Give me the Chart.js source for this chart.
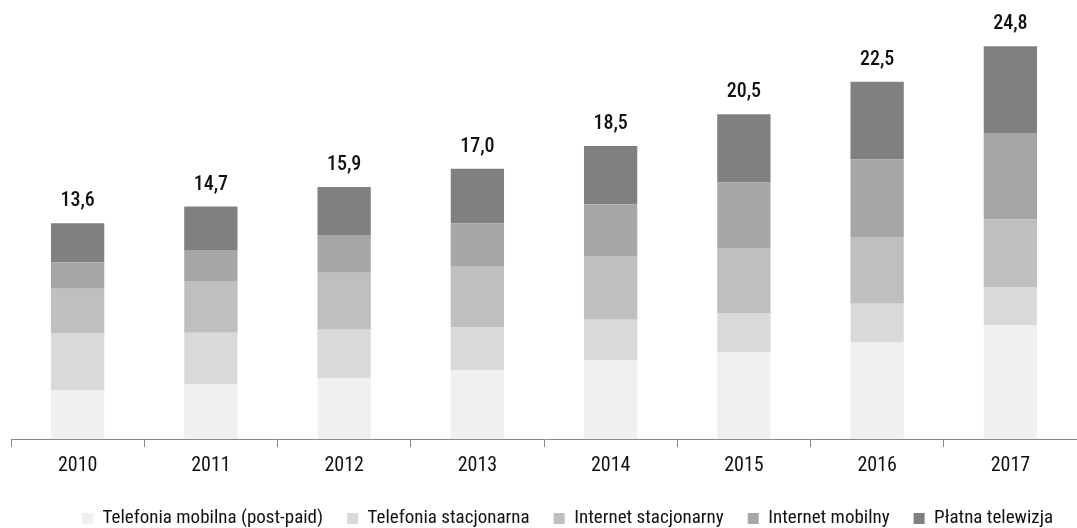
<!DOCTYPE html>
<html>
<head>
<meta charset="utf-8">
<script src="https://cdn.jsdelivr.net/npm/chart.js@4/dist/chart.umd.min.js"></script>
<style>
  html, body { margin: 0; padding: 0; background: #fff; }
  #wrap { width: 1077px; height: 528px; }
</style>
</head>
<body>
<div id="wrap"><canvas id="chart" width="1077" height="528"></canvas></div>
<script>
const years = ['2010', '2011', '2012', '2013', '2014', '2015', '2016', '2017'];
const totals = [13.6, 14.7, 15.9, 17.0, 18.5, 20.5, 22.5, 24.8];

// segments (bottom to top)
const mobilePostpaid = [3.06, 3.45, 3.85, 4.33, 4.96, 5.48, 6.09, 7.2];
const fixedPhone = [3.6, 3.25, 3.04, 2.7, 2.57, 2.47, 2.45, 2.4];
const fixedInternet = [2.82, 3.22, 3.6, 3.89, 4.02, 4.1, 4.21, 4.27];
const mobileInternet = [1.68, 2.01, 2.39, 2.7, 3.26, 4.14, 4.9, 5.4];
const payTv = [2.45, 2.74, 3.03, 3.43, 3.68, 4.31, 4.9, 5.52];

const seriesNames = ['Telefonia mobilna (post-paid)', 'Telefonia stacjonarna', 'Internet stacjonarny', 'Internet mobilny', 'Płatna telewizja'];
const seriesColors = ['#f0f0f0', '#d9d9d9', '#bfbfbf', '#a6a6a6', '#808080'];
const seriesData = [mobilePostpaid, fixedPhone, fixedInternet, mobileInternet, payTv];

const FONT = '"Roboto Condensed", "Liberation Sans Narrow", sans-serif';

// total above each stack
const totalLabels = {
  id: 'totalLabels',
  afterDatasetsDraw(chart) {
    const ctx = chart.ctx;
    const last = chart.getDatasetMeta(chart.data.datasets.length - 1);
    ctx.save();
    ctx.font = '500 20px ' + FONT;
    ctx.fillStyle = '#111';
    ctx.textAlign = 'center';
    ctx.textBaseline = 'alphabetic';
    last.data.forEach((bar, i) => {
      ctx.fillText(totals[i].toFixed(1).replace('.', ','), bar.x, bar.y - 17);
    });
    ctx.restore();
  }
};

new Chart(document.getElementById('chart'), {
  type: 'bar',
  data: {
    labels: years,
    datasets: seriesData.map((d, i) => ({
      label: seriesNames[i],
      data: d,
      backgroundColor: seriesColors[i],
      borderWidth: 0,
      barPercentage: 0.4,
      categoryPercentage: 1.0
    }))
  },
  options: {
    responsive: false,
    animation: false,
    layout: { padding: { top: 27, left: 11, right: 0, bottom: -10 } },
    plugins: {
      legend: {
        position: 'bottom',
        align: 'end',
        labels: {
          boxWidth: 11,
          boxHeight: 11,
          padding: 24,
          color: '#111',
          font: { family: FONT, size: 19 }
        }
      },
      tooltip: { enabled: false }
    },
    scales: {
      x: {
        stacked: true,
        grid: {
          display: true,
          drawOnChartArea: false,
          offset: true,
          tickLength: 8,
          color: '#888'
        },
        border: { color: '#888', width: 1 },
        ticks: {
          color: '#111',
          padding: 11,
          font: { family: FONT, size: 20, lineHeight: 0.8 }
        }
      },
      y: {
        stacked: true,
        display: false,
        min: 0,
        max: 26
      }
    }
  },
  plugins: [totalLabels]
});
</script>
</body>
</html>
